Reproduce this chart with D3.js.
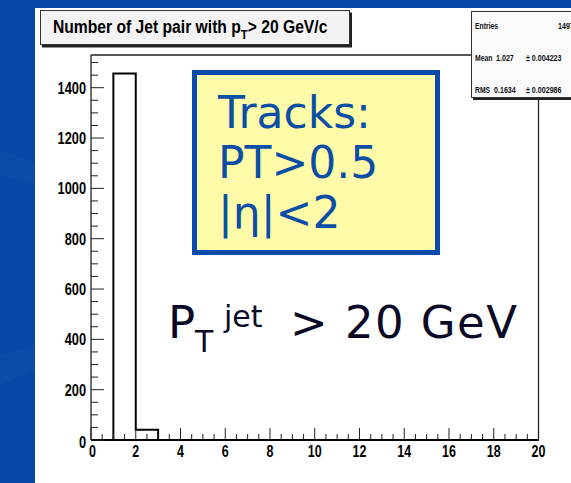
<!DOCTYPE html>
<html><head><meta charset="utf-8">
<script src="https://cdn.jsdelivr.net/npm/d3@7"></script>
<style>
html,body{margin:0;padding:0;background:#0648a8;overflow:hidden;}
svg{display:block;}
</style></head>
<body><svg id="c" width="571" height="483"></svg>
<script>
// ---- data ----
const binEdges = [0,1,2,3,4,5,6,7,8,9,10,11,12,13,14,15,16,17,18,19,20];
const binCounts = [0,1456,41,0,0,0,0,0,0,0,0,0,0,0,0,0,0,0,0,0];
const xTickValues = [0,2,4,6,8,10,12,14,16,18,20];
const yTickValues = [0,200,400,600,800,1000,1200,1400];
const statLabels = ["Entries","Mean","RMS"];
const statValues = ["1497","1.027","0.1634"];
const statErrors = ["","\u00b1 0.004223","\u00b1 0.002986"];
const boxLines = ["Tracks:","PT>0.5","|\u03b7|<2"];

const sans = "'Liberation Sans',Arial,Helvetica,sans-serif";
const verd = "'DejaVu Sans',Verdana,sans-serif";
const svg = d3.select("#c");

// narrow text helper (condensed Helvetica look)
function ntext(parent, px, py, str, size, sx, anchor){
  return parent.append("g").attr("transform",`translate(${px},${py}) scale(${sx},1)`)
    .append("text").attr("x",0).attr("y",0).attr("text-anchor",anchor||"start")
    .attr("font-family",sans).attr("font-weight","bold").attr("font-size",size).attr("fill","#000")
    .text(str);
}

// background
svg.append("rect").attr("width",571).attr("height",483).attr("fill","#0648a8");
svg.append("path").attr("d","M0,150 L35,163 L35,185 L0,175 Z").attr("fill","#1656b0").attr("opacity",0.35);
svg.append("path").attr("d","M0,355 L35,345 L35,370 L0,385 Z").attr("fill","#1656b0").attr("opacity",0.3);
svg.append("rect").attr("x",35).attr("y",8).attr("width",536).attr("height",475).attr("fill","#ffffff");

const x = d3.scaleLinear().domain([0,20]).range([91,538.5]);
const y = d3.scaleLinear().domain([0,1530]).range([440,55]);

// frame (top/right)
svg.append("path").attr("d",`M${x(0)},${y(1530)} H${x(20)} V${y(0)}`)
  .attr("fill","none").attr("stroke","#222").attr("stroke-width",1.3);

// histogram outline
const pts = [[binEdges[0],0]];
binCounts.forEach((c,i)=>{pts.push([binEdges[i],c]);pts.push([binEdges[i+1],c]);});
pts.push([binEdges[binEdges.length-1],0]);
svg.append("path").attr("d",d3.line().x(d=>x(d[0])).y(d=>y(d[1]))(pts))
  .attr("fill","none").attr("stroke","#000").attr("stroke-width",2);

// x axis
const xMinor = d3.range(0,20.01,0.5);
const gx = svg.append("g");
gx.selectAll("line.mi").data(xMinor).join("line")
  .attr("x1",d=>x(d)).attr("x2",d=>x(d)).attr("y1",y(0)).attr("y2",d=>y(0)-(d%2===0?12:6))
  .attr("stroke","#222").attr("stroke-width",1);
gx.append("line").attr("x1",x(0)).attr("x2",x(20)).attr("y1",y(0)).attr("y2",y(0))
  .attr("stroke","#000").attr("stroke-width",2);
xTickValues.forEach(d=>ntext(gx, x(d)+(d===0?1.5:0), y(0)+17, String(d), 16, 0.78, "middle"));

// y axis
const yMinor = d3.range(0,1530,50);
const gy = svg.append("g");
gy.append("line").attr("x1",x(0)).attr("x2",x(0)).attr("y1",y(0)).attr("y2",y(1530))
  .attr("stroke","#222").attr("stroke-width",1.3);
gy.selectAll("line.mi").data(yMinor).join("line")
  .attr("x1",x(0)).attr("x2",d=>x(0)+(d%200===0?13:7)).attr("y1",d=>y(d)).attr("y2",d=>y(d))
  .attr("stroke","#222").attr("stroke-width",1);
yTickValues.forEach(d=>ntext(gy, x(0)-5, y(d)+6+(d===0?2:0), String(d), 16, 0.8, "end"));

// title box
svg.append("rect").attr("x",42).attr("y",12.5).attr("width",310).attr("height",35).attr("fill","#222");
svg.append("rect").attr("x",40.5).attr("y",10.5).attr("width",309).attr("height",34)
  .attr("fill","#f3f3f3").attr("stroke","#333").attr("stroke-width",1);
const tg = svg.append("g").attr("transform","translate(53,33) scale(0.87,1)");
const tt = tg.append("text").attr("x",0).attr("y",0).attr("font-family",sans)
  .attr("font-weight","bold").attr("font-size",18).attr("fill","#000");
tt.append("tspan").text("Number of Jet pair with p");
tt.append("tspan").attr("font-size",13).attr("dy",6).text("T");
tt.append("tspan").attr("dy",-6).text("> 20 GeV/c");

// stats box
svg.append("rect").attr("x",473).attr("y",13).attr("width",110).attr("height",87).attr("fill","#222");
svg.append("rect").attr("x",471.5).attr("y",11.5).attr("width",110).attr("height",86)
  .attr("fill","#fafafa").attr("stroke","#333").attr("stroke-width",1);
const statY = [29,61,93];
const gs = svg.append("g");
statLabels.forEach((l,i)=>{
  ntext(gs, 475, statY[i], l, 9.5, 0.72).attr("fill","#111");
  ntext(gs, i===0?558:(i===1?496:494), statY[i], statValues[i], 9.5, 0.75).attr("fill","#111");
  if(statErrors[i]) ntext(gs, 526, statY[i], statErrors[i], 9.5, 0.75).attr("fill","#111");
});

// yellow note box
svg.append("rect").attr("x",194.5).attr("y",72.5).attr("width",243).attr("height",180)
  .attr("fill","#fffba8").attr("stroke","#0a4aa8").attr("stroke-width",5);
svg.selectAll("text.box").data(boxLines).join("text").attr("class","box")
  .attr("x",218).attr("y",(d,i)=>128+i*50)
  .attr("font-family",verd).attr("font-size",44).attr("fill","#0b4ea5")
  .text(d=>d);

// PT jet label
const gp = svg.append("g").attr("font-family",verd).attr("fill","#0a0a26");
gp.append("text").attr("x",168).attr("y",338).attr("font-size",45).text("P");
gp.append("text").attr("x",195).attr("y",352).attr("font-size",30).text("T");
gp.append("text").attr("x",224).attr("y",327).attr("font-size",30).text("jet");
gp.append("text").attr("x",290).attr("y",338).attr("font-size",45).text(">");
gp.append("text").attr("x",345).attr("y",338).attr("font-size",45)
  .attr("textLength",172).attr("lengthAdjust","spacing").text("20 GeV");
</script></body></html>
